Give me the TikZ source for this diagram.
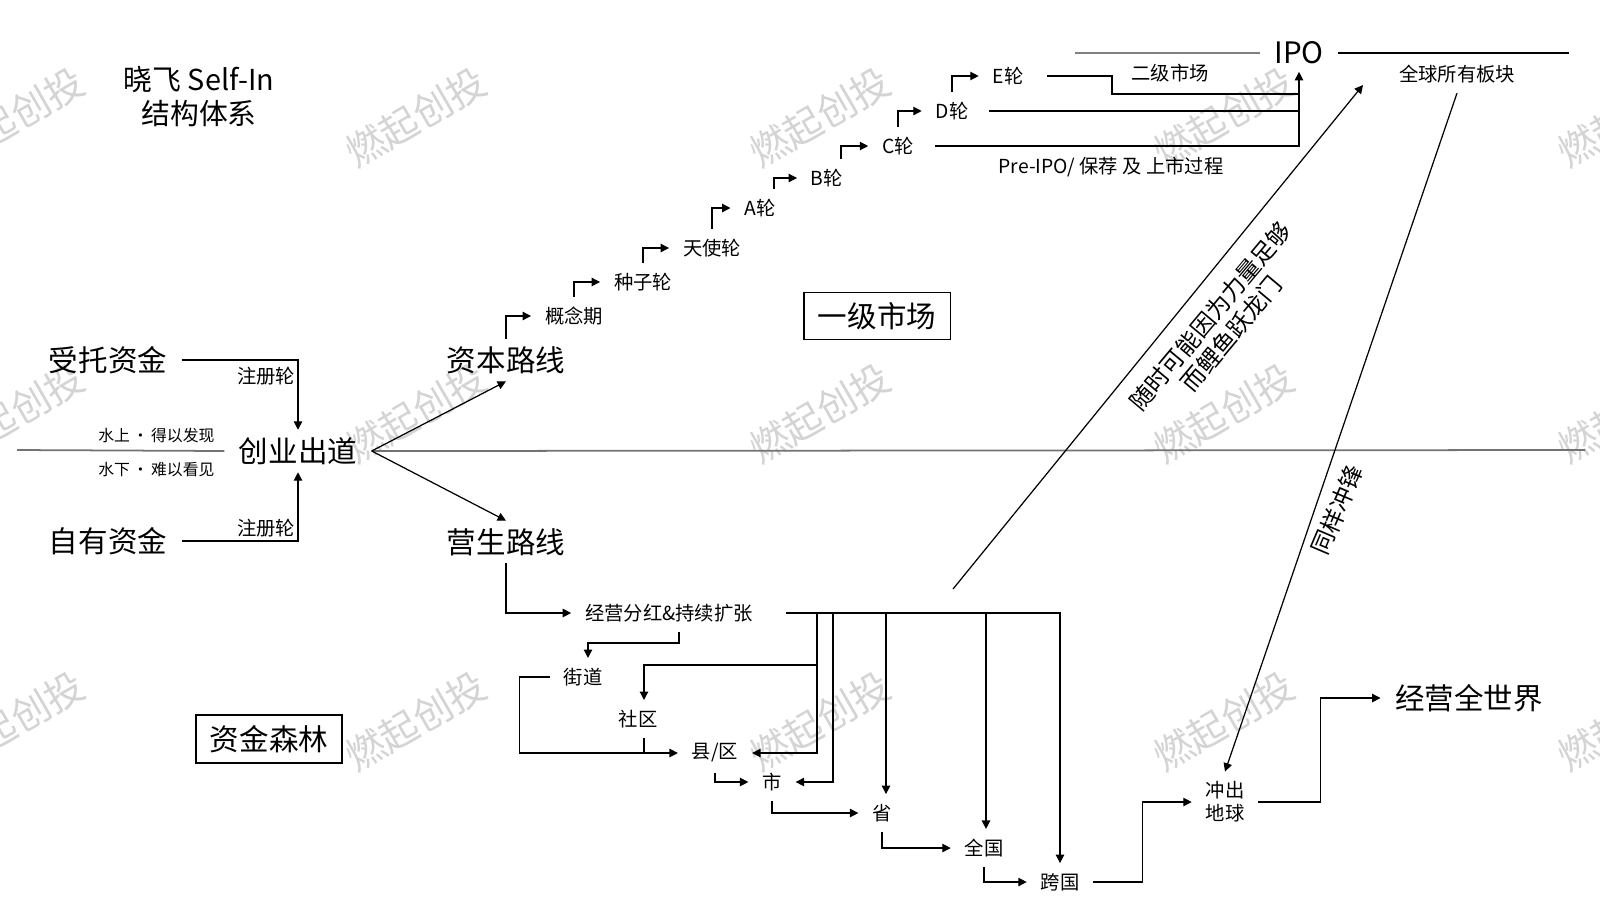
\documentclass[tikz,border=0pt]{standalone}
\usepackage{fontspec}
\setmainfont{Noto Sans CJK SC}
\usetikzlibrary{arrows.meta}

\begin{document}
\begin{tikzpicture}[
    x=1cm, y=-1cm, line width=0.35pt,
    biglbl/.style={font=\fontsize{8.4}{10}\selectfont, inner xsep=4pt, inner ysep=2pt},
    midlbl/.style={font=\fontsize{5.5}{6.6}\selectfont, inner xsep=3.8pt, inner ysep=2.7pt},
    smalllbl/.style={font=\fontsize{4.5}{5.4}\selectfont, inner sep=0pt},
    sidelbl/.style={font=\fontsize{6.7}{7.8}\selectfont, align=center, inner sep=0pt},
    wmark/.style={font=\fontsize{11}{13}\selectfont, text=black!17, rotate=30},
    horizon/.style={draw=black!55, line width=0.5pt},
    >={Triangle[length=2.4pt,width=2.4pt]}
]
    \useasboundingbox (0,0) rectangle (16,9);

    % Watermarks
    \node[wmark] (wm1) at (0.14,1.17) {燃起创投};
    \node[wmark] (wm2) at (4.16,1.17) {燃起创投};
    \node[wmark] (wm3) at (8.20,1.17) {燃起创投};
    \node[wmark] (wm4) at (12.24,1.17) {燃起创投};
    \node[wmark] (wm5) at (16.28,1.17) {燃起创投};
    \node[wmark] (wm6) at (0.14,4.13) {燃起创投};
    \node[wmark] (wm7) at (4.16,4.13) {燃起创投};
    \node[wmark] (wm8) at (8.20,4.13) {燃起创投};
    \node[wmark] (wm9) at (12.24,4.13) {燃起创投};
    \node[wmark] (wm10) at (16.28,4.13) {燃起创投};
    \node[wmark] (wm11) at (0.14,7.21) {燃起创投};
    \node[wmark] (wm12) at (4.16,7.21) {燃起创投};
    \node[wmark] (wm13) at (8.20,7.21) {燃起创投};
    \node[wmark] (wm14) at (12.24,7.21) {燃起创投};
    \node[wmark] (wm15) at (16.28,7.21) {燃起创投};

    % Title
    \node[biglbl, align=center, font=\fontsize{8.2}{9.7}\selectfont] (title) at (1.99,0.97) {晓飞 Self-In\\结构体系};

    % Start
    \node[biglbl] (trust) at (1.08,3.60) {受托资金};
    \node[biglbl] (own) at (1.08,5.41) {自有资金};
    \node[biglbl] (start) at (2.98,4.51) {创业出道};
    \node[midlbl] (reg1) at (2.66,3.76) {注册轮};
    \node[midlbl] (reg2) at (2.66,5.28) {注册轮};
    \node[smalllbl, anchor=east] (above) at (2.15,4.35) {水上\,·\,得以发现};
    \node[smalllbl, anchor=east] (below) at (2.15,4.70) {水下\,·\,难以看见};
    \node[biglbl] (capital) at (5.06,3.60) {资本路线};
    \node[biglbl] (living) at (5.06,5.42) {营生路线};

    % Rounds
    \node[midlbl] (concept) at (5.74,3.16) {概念期};
    \node[midlbl] (seed) at (6.43,2.82) {种子轮};
    \node[midlbl] (angel) at (7.12,2.48) {天使轮};
    \node[midlbl] (roundA) at (7.60,2.08) {A轮};
    \node[midlbl] (roundB) at (8.27,1.78) {B轮};
    \node[midlbl] (roundC) at (8.98,1.46) {C轮};
    \node[midlbl] (roundD) at (9.52,1.11) {D轮};
    \node[midlbl] (roundE) at (10.08,0.76) {E轮};
    \node[biglbl, draw, minimum width=1.45cm, minimum height=0.47cm] (primary) at (8.77,3.16) {一级市场};

    % IPO
    \node[biglbl] (ipo) at (12.99,0.53) {IPO};
    \node[midlbl] (secondary) at (11.70,0.73) {二级市场};
    \node[midlbl] (preipo) at (11.11,1.67) {Pre-IPO/ 保荐 及 上市过程};
    \node[midlbl] (global) at (14.57,0.74) {全球所有板块};
    \node[sidelbl, rotate=50] (leap) at (12.21,3.25) {随时可能因为力量足够\\而鲤鱼跃龙门};
    \node[sidelbl, rotate=67] (charge) at (13.37,5.10) {同样冲锋};

    % Business route
    \node[midlbl] (dividend) at (6.69,6.13) {经营分红\&持续扩张};
    \node[midlbl] (street) at (5.83,6.77) {街道};
    \node[midlbl] (community) at (6.38,7.19) {社区};
    \node[midlbl] (county) at (7.15,7.53) {县/区};
    \node[midlbl] (city) at (7.72,7.82) {市};
    \node[midlbl] (province) at (8.82,8.13) {省};
    \node[midlbl] (nation) at (9.84,8.48) {全国};
    \node[midlbl] (cross) at (10.60,8.82) {跨国};
    \node[midlbl, align=center, font=\fontsize{5.5}{6.5}\selectfont] (earth) at (12.25,8.02) {冲出\\地球};
    \node[biglbl] (world) at (14.69,6.98) {经营全世界};
    \node[biglbl, draw, minimum width=1.45cm, minimum height=0.48cm] (forest) at (2.69,7.39) {资金森林};

    \coordinate (horizonL) at (0.17,4.50);
    \coordinate (horizonR) at (15.85,4.50);
    \coordinate (ipoL) at (10.75,0.53);
    \coordinate (ipoR) at (15.69,0.53);
    \coordinate (estep) at (11.12,0.94);
    \coordinate (leapfoot) at (9.53,5.89);
    \coordinate (leaptip) at (13.63,0.85);
    \coordinate (b1) at (8.17,6.12);
    \coordinate (b1mid) at (8.17,6.65);
    \coordinate (b2) at (8.33,6.12);
    \coordinate (b3) at (8.86,6.12);
    \coordinate (b4) at (9.86,6.12);

    \draw[horizon] (horizonL) -- (start.west);
    \draw[horizon] (start.east) -- (horizonR);
    \draw[->] (trust.east) -| (start.north);
    \draw[->] (own.east) -| (start.south);
    \draw[->] (start.east) -- (capital.south);
    \draw[->] (start.east) -- (living.north);

    \draw[->] (capital.north) |- (concept.west);
    \draw[->] (concept.north) |- (seed.west);
    \draw[->] (seed.north) |- (angel.west);
    \draw[->] (angel.north) |- (roundA.west);
    \draw[->] ([xshift=1.4mm]roundA.north) |- (roundB.west);
    \draw[->] ([xshift=1.4mm]roundB.north) |- (roundC.west);
    \draw[->] (roundC.north) |- (roundD.west);
    \draw[->] (roundD.north) |- (roundE.west);

    \draw[->, shorten <=0.7mm] (roundC.east) -| (ipo.south);
    \draw[shorten <=0.7mm] (roundD.east) -- (roundD.east -| ipo.south);
    \draw[shorten <=1mm] (roundE.east) -| (estep) -- (estep -| ipo.south);
    \draw[black!50] (ipoL) -- (ipo.west);
    \draw (ipo.east) -- (ipoR);
    \draw[->] (leapfoot) -- (leaptip);
    \draw[->] (global.south) -- (earth.north);

    \draw[->] (living.south) |- (dividend.west);
    \draw[->] ([xshift=1mm]dividend.south) |- ([xshift=0.5mm,yshift=1.5mm]street.north) -- ([xshift=0.5mm]street.north);
    \draw[->] (street.west) -- ++(-0.3,0) |- (county.west);
    \draw ([xshift=0.6mm]community.south) -- ([xshift=0.6mm]community.south |- county.west);
    \draw[->, shorten <=1.9mm] (dividend.east) -| (cross.north);
    \draw[->] (b1) |- (county.east);
    \draw[->] (b1mid) -| ([xshift=0.6mm]community.north);
    \draw[->] (b2) |- (city.east);
    \draw[->] (b3) -- (b3 |- province.north);
    \draw[->] (b4) -- (b4 |- nation.north);
    \draw[->] (county.south) |- (city.west);
    \draw[->] (city.south) |- (province.west);
    \draw[->] (province.south) |- (nation.west);
    \draw[->] (nation.south) |- (cross.west);
    \draw[->] (cross.east) -- ++(0.49,0) |- (earth.west);
    \draw[->] (earth.east) -- ++(0.62,0) |- (world.west);
\end{tikzpicture}
\end{document}
